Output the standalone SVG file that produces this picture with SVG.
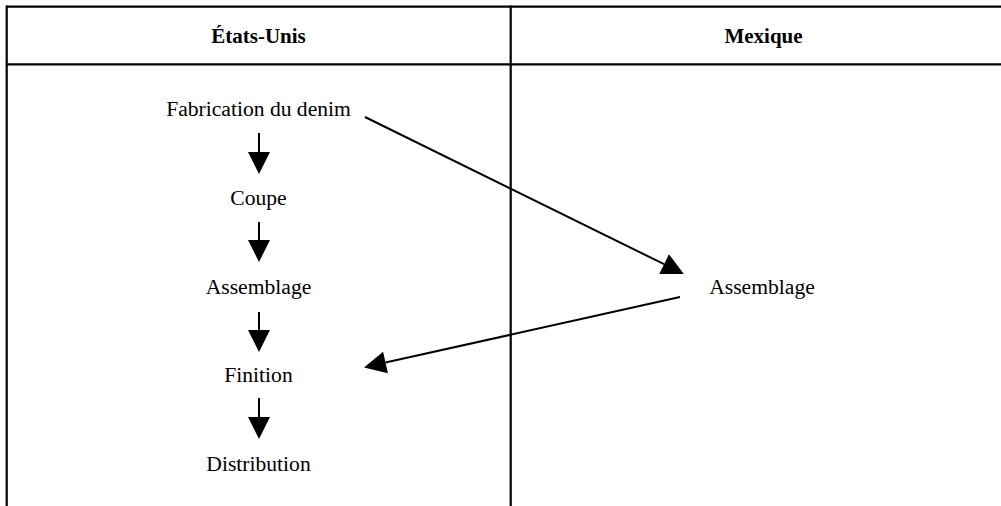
<svg xmlns="http://www.w3.org/2000/svg" width="1001" height="506" viewBox="0 0 1001 506">
  <style>
    .grid { stroke: #000; stroke-width: 2.2; fill: none; }
    .hdr { font-family: "Liberation Serif", "Times New Roman", serif; font-size: 21px; font-weight: bold; text-anchor: middle; fill: #000; }
    .lbl { font-family: "Liberation Serif", "Times New Roman", serif; font-size: 21.6px; text-anchor: middle; fill: #000; }
    .conn { stroke: #000; stroke-width: 2; fill: none; }
  </style>
  <defs>
    <marker id="arr" markerUnits="userSpaceOnUse" markerWidth="22" markerHeight="22" refX="0" refY="10" orient="auto" viewBox="0 0 20 20" overflow="visible">
      <polygon points="0,0 20,10 0,20" fill="#000"/>
    </marker>
  </defs>
  <rect width="1001" height="506" fill="#fff"/>
  <g id="table">
    <line class="grid" x1="6.7" y1="6.7" x2="1001" y2="6.7"/>
    <line class="grid" x1="6.7" y1="64.3" x2="1001" y2="64.3"/>
    <line class="grid" x1="6.7" y1="5.6" x2="6.7" y2="506"/>
    <line class="grid" x1="510.7" y1="5.6" x2="510.7" y2="506"/>
    <text class="hdr" x="258.5" y="42.5">États-Unis</text>
    <text class="hdr" x="763.5" y="42.5">Mexique</text>
  </g>
  <g id="n-fabrication"><text class="lbl" x="258.5" y="116">Fabrication du denim</text></g>
  <g id="n-coupe"><text class="lbl" x="258.5" y="205">Coupe</text></g>
  <g id="n-assemblage-us"><text class="lbl" x="258.5" y="294">Assemblage</text></g>
  <g id="n-finition"><text class="lbl" x="258.5" y="382">Finition</text></g>
  <g id="n-distribution"><text class="lbl" x="258.5" y="471">Distribution</text></g>
  <g id="n-assemblage-mx"><text class="lbl" x="762" y="294">Assemblage</text></g>
  <g id="connectors">
    <line class="conn" x1="259" y1="133" x2="259" y2="152" marker-end="url(#arr)"/>
    <line class="conn" x1="259" y1="222" x2="259" y2="240" marker-end="url(#arr)"/>
    <line class="conn" x1="259" y1="312" x2="259" y2="330" marker-end="url(#arr)"/>
    <line class="conn" x1="259" y1="398" x2="259" y2="417" marker-end="url(#arr)"/>
    <line class="conn" x1="365" y1="117" x2="664.1" y2="264.2" marker-end="url(#arr)"/>
    <line class="conn" x1="680" y1="297" x2="385.5" y2="362.6" marker-end="url(#arr)"/>
  </g>
</svg>
